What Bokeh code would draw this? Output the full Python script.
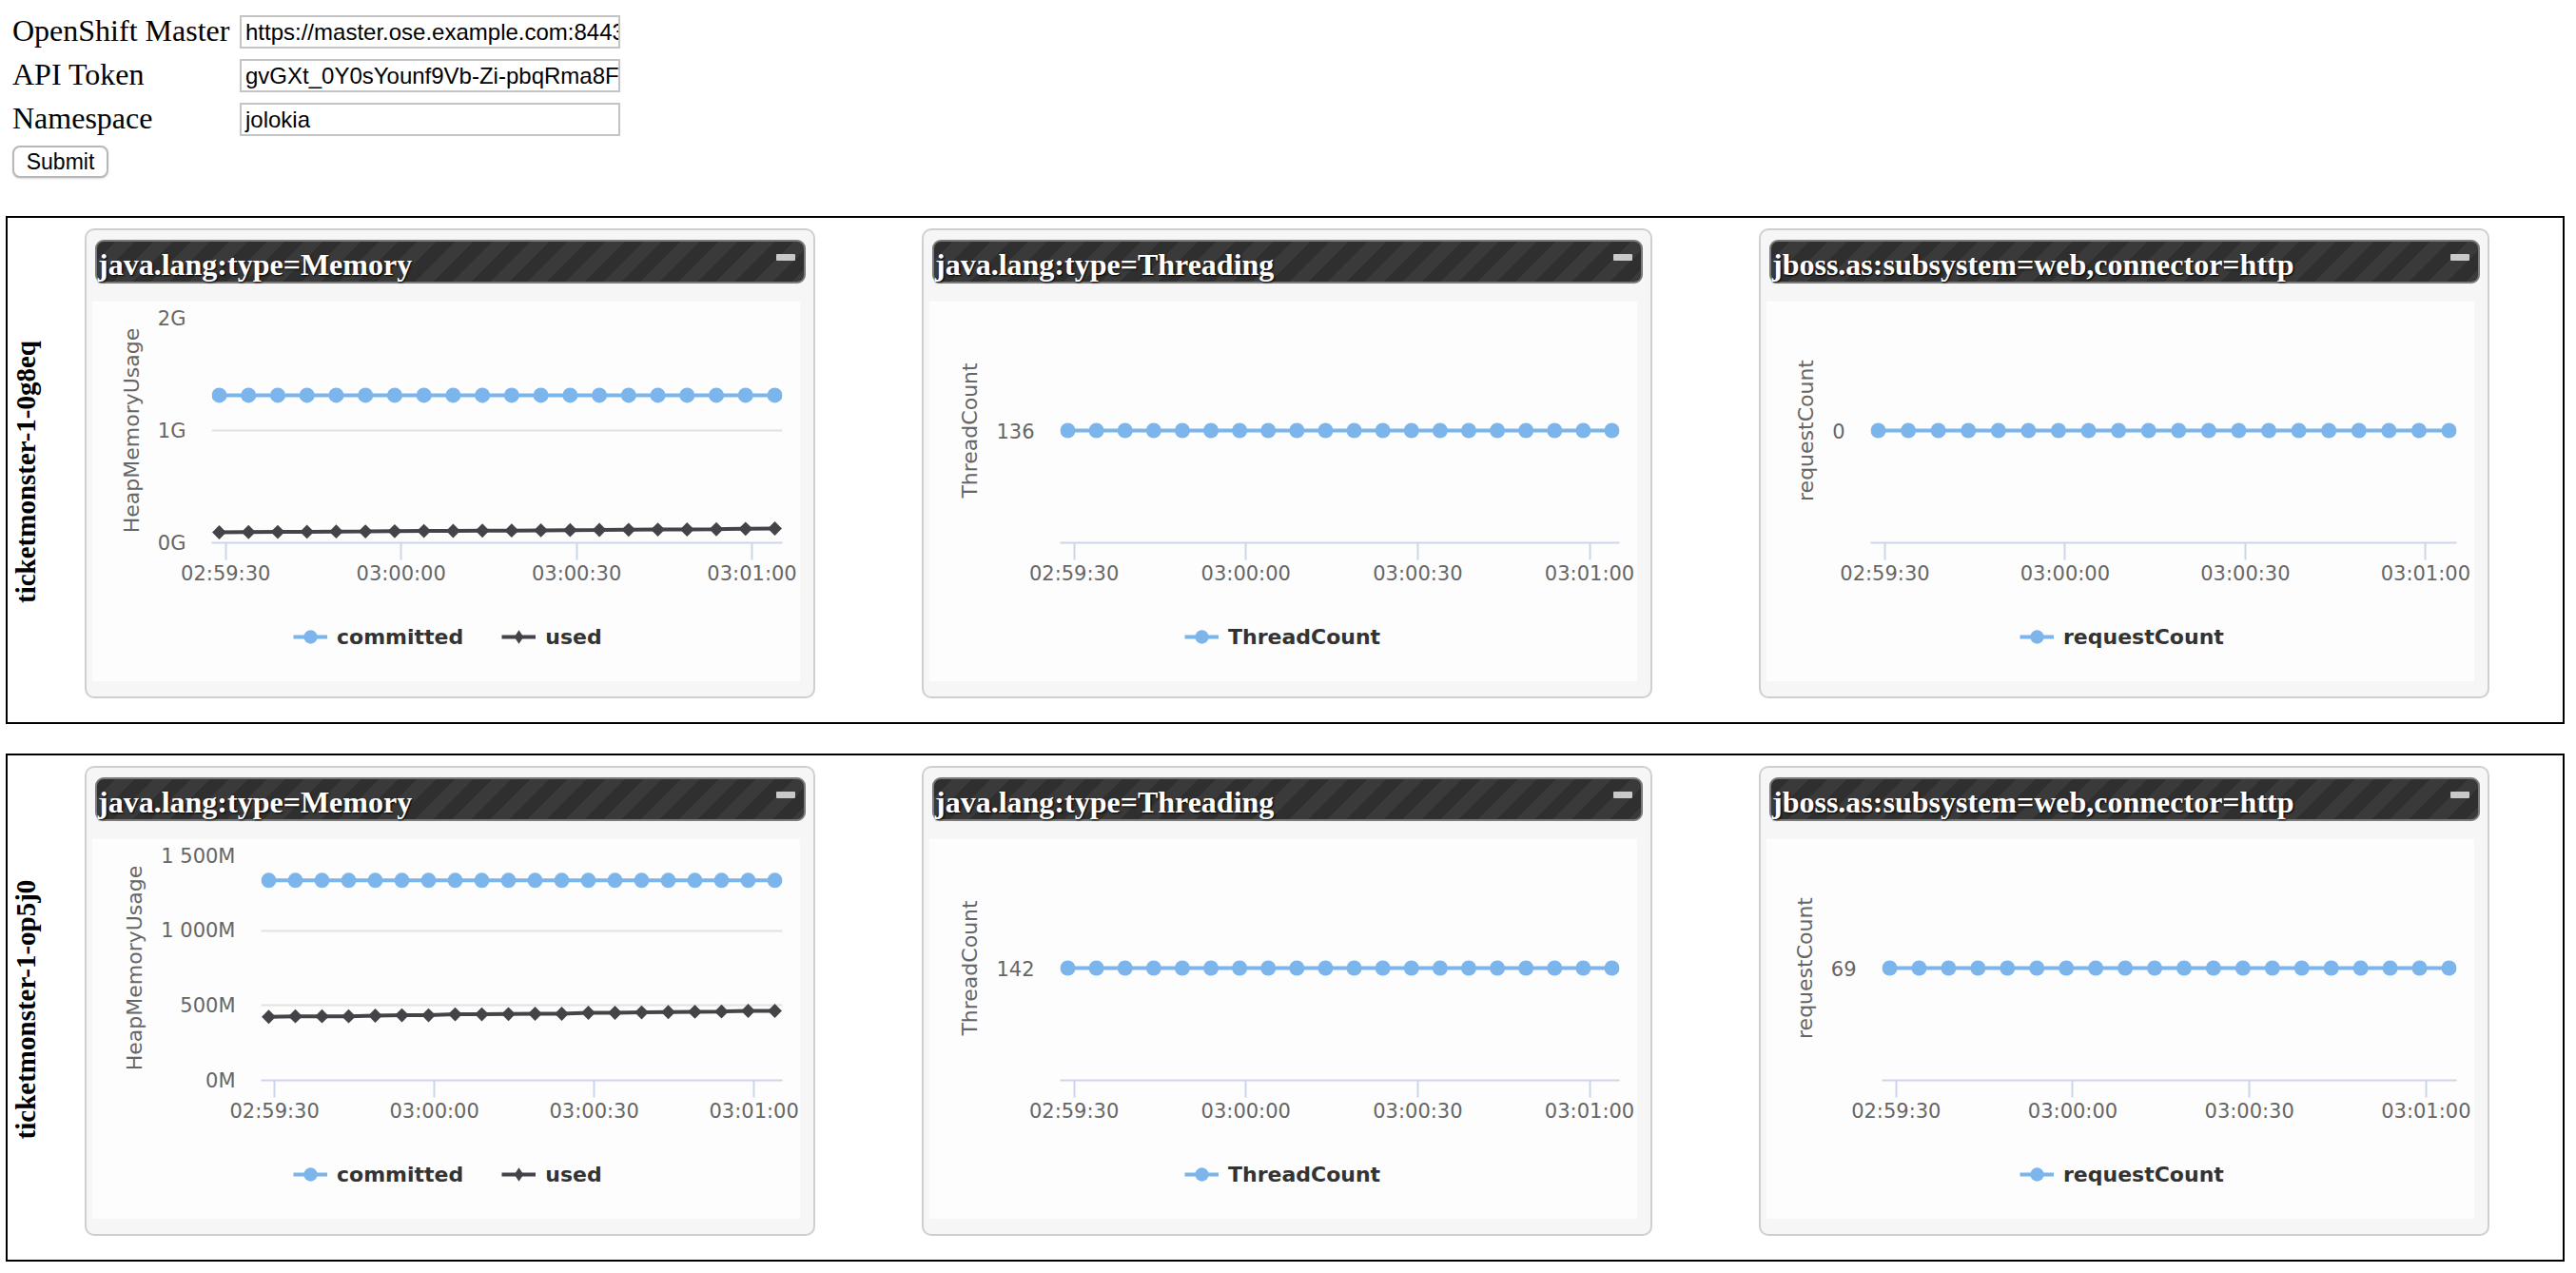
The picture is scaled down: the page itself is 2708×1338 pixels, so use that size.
import math
import pandas as pd
from bokeh.plotting import figure
from bokeh.layouts import column
from bokeh.models import (Range1d, FixedTicker, DatetimeTickFormatter, Legend,
                          LegendItem, Div)
from bokeh.embed import file_html
from bokeh.resources import INLINE

# ---------------- data ----------------
form_labels = ["OpenShift Master", "API Token", "Namespace"]
form_values = ["https://master.ose.example.com:8443",
               "gvGXt_0Y0sYounf9Vb-Zi-pbqRma8Fd",
               "jolokia"]
button_label = "Submit"
pods = ["ticketmonster-1-0g8eq", "ticketmonster-1-op5j0"]
mbeans = ["java.lang:type=Memory", "java.lang:type=Threading",
          "jboss.as:subsystem=web,connector=http"]

times = ["02:59:28.9", "02:59:33.9", "02:59:38.9", "02:59:43.9", "02:59:48.9",
         "02:59:53.9", "02:59:58.9", "03:00:03.9", "03:00:08.9", "03:00:13.9",
         "03:00:18.9", "03:00:23.9", "03:00:28.9", "03:00:33.9", "03:00:38.9",
         "03:00:43.9", "03:00:48.9", "03:00:53.9", "03:00:58.9", "03:01:03.9"]
x_tick_labels = ["02:59:30", "03:00:00", "03:00:30", "03:01:00"]

# heap values in MB
heap_committed_0 = [1314, 1314, 1314, 1314, 1314, 1314, 1314, 1314, 1314, 1314,
                    1314, 1314, 1314, 1314, 1314, 1314, 1314, 1314, 1314, 1314]
heap_used_0 = [93, 95, 97, 98, 100, 101, 103, 105, 106, 108,
               109, 111, 113, 114, 116, 118, 119, 121, 124, 127]
heap_committed_1 = [1336, 1336, 1336, 1336, 1336, 1336, 1336, 1336, 1336, 1336,
                    1336, 1336, 1336, 1336, 1336, 1336, 1336, 1336, 1336, 1336]
heap_used_1 = [424, 428, 428, 428, 432, 435, 435, 441, 441, 443,
               445, 445, 451, 451, 454, 456, 458, 460, 464, 464]
thread_count_0 = [136, 136, 136, 136, 136, 136, 136, 136, 136, 136,
                  136, 136, 136, 136, 136, 136, 136, 136, 136, 136]
thread_count_1 = [142, 142, 142, 142, 142, 142, 142, 142, 142, 142,
                  142, 142, 142, 142, 142, 142, 142, 142, 142, 142]
request_count_0 = [0, 0, 0, 0, 0, 0, 0, 0, 0, 0,
                   0, 0, 0, 0, 0, 0, 0, 0, 0, 0]
request_count_1 = [69, 69, 69, 69, 69, 69, 69, 69, 69, 69,
                   69, 69, 69, 69, 69, 69, 69, 69, 69, 69]

heap_ticks_0 = [0, 1000, 2000]
heap_tick_labels_0 = ["0G", "1G", "2G"]
heap_ticks_1 = [0, 500, 1000, 1500]
heap_tick_labels_1 = ["0M", "500M", "1 000M", "1 500M"]

# ---------------- styling / layout ----------------
DAY = "2017-03-01 "
C1, C2 = "#7cb5ec", "#434348"
CHART_BG = "#fdfdfd"
FONT = "DejaVu Sans"
W, H = 745, 400
FR, FT, FB = 19, 18, 146
FRAME_LEFT = {(0, 0): 126, (0, 1): 138, (0, 2): 110,
              (1, 0): 178, (1, 1): 138, (1, 2): 122}
LEGEND_LEFT = {0: 214, 1: 271, 2: 269}
LEGEND_TOP, LEGEND_H = 328, 50
COL_DX, ROW_DY = 880, 565
HAS_FRAME_ALIGN = "frame_align" in figure.properties()


def single(v):
    return (v[0] - 1, v[0] + 1)


charts = [
    dict(row=0, col=0, title="HeapMemoryUsage",
         series=[("committed", heap_committed_0, C1, "circle"),
                 ("used", heap_used_0, C2, "diamond")],
         yticks=heap_ticks_0, ylabels=heap_tick_labels_0, yr=(0, heap_ticks_0[-1])),
    dict(row=0, col=1, title="ThreadCount",
         series=[("ThreadCount", thread_count_0, C1, "circle")],
         yticks=[thread_count_0[0]], ylabels=None, yr=single(thread_count_0)),
    dict(row=0, col=2, title="requestCount",
         series=[("requestCount", request_count_0, C1, "circle")],
         yticks=[request_count_0[0]], ylabels=None, yr=single(request_count_0)),
    dict(row=1, col=0, title="HeapMemoryUsage",
         series=[("committed", heap_committed_1, C1, "circle"),
                 ("used", heap_used_1, C2, "diamond")],
         yticks=heap_ticks_1, ylabels=heap_tick_labels_1, yr=(0, heap_ticks_1[-1])),
    dict(row=1, col=1, title="ThreadCount",
         series=[("ThreadCount", thread_count_1, C1, "circle")],
         yticks=[thread_count_1[0]], ylabels=None, yr=single(thread_count_1)),
    dict(row=1, col=2, title="requestCount",
         series=[("requestCount", request_count_1, C1, "circle")],
         yticks=[request_count_1[0]], ylabels=None, yr=single(request_count_1)),
]

x_ms = [pd.Timestamp(DAY + t).value / 1e6 for t in times]
tick_ms = [pd.Timestamp(DAY + t).value / 1e6 for t in x_tick_labels]
fmt = "%H:%M:%S"


def abs_style(left, top, w, h):
    return {"position": "absolute", "left": f"{left}px", "top": f"{top}px",
            "width": f"{w}px", "height": f"{h}px",
            "min-width": f"{w}px", "min-height": f"{h}px"}


def make_chart(spec):
    r, c = spec["row"], spec["col"]
    fl = FRAME_LEFT[(r, c)]
    fw = W - fl - FR
    pad = 8 * (x_ms[-1] - x_ms[0]) / (fw - 16)
    left = 101 + c * COL_DX
    top = 322 + r * ROW_DY
    xr = Range1d(x_ms[0] - pad, x_ms[-1] + pad)
    p = figure(width=W, height=H, x_axis_type="datetime",
               x_range=xr, y_range=Range1d(*spec["yr"]),
               output_backend="svg", toolbar_location=None, tools="",
               min_border_left=fl, min_border_right=FR,
               min_border_top=FT, min_border_bottom=FB,
               background_fill_color=CHART_BG, border_fill_color=CHART_BG,
               outline_line_color=None, sizing_mode="fixed",
               styles=abs_style(left, top, W, H))
    if HAS_FRAME_ALIGN:
        p.frame_align = False
    # x axis
    xt = FixedTicker(ticks=tick_ms)
    p.xaxis.ticker = xt
    p.xaxis.formatter = DatetimeTickFormatter(milliseconds=fmt, seconds=fmt, minsec=fmt,
                                              minutes=fmt, hourmin=fmt, hours=fmt)
    p.xaxis.axis_line_color = "#ccd6eb"
    p.xaxis.axis_line_width = 2
    p.xaxis.major_tick_line_color = "#ccd6eb"
    p.xaxis.major_tick_line_width = 2
    p.xaxis.major_tick_out = 18
    p.xaxis.major_tick_in = 0
    p.xaxis.minor_tick_line_color = None
    p.xaxis.minor_tick_out = 0
    p.xaxis.major_label_standoff = 2
    p.xaxis.major_label_text_font = FONT
    p.xaxis.major_label_text_font_size = "21px"
    p.xaxis.major_label_text_color = "#666666"
    p.xgrid.grid_line_color = None

    # y axis
    yt = FixedTicker(ticks=spec["yticks"])
    p.yaxis.ticker = yt
    p.ygrid.ticker = yt
    if spec["ylabels"]:
        p.yaxis.major_label_overrides = dict(zip(spec["yticks"], spec["ylabels"]))
    p.yaxis.axis_line_color = None
    p.yaxis.major_tick_line_color = None
    p.yaxis.minor_tick_line_color = None
    p.yaxis.major_tick_out = 0
    p.yaxis.minor_tick_out = 0
    p.yaxis.major_label_standoff = 27
    p.yaxis.major_label_text_font = FONT
    p.yaxis.major_label_text_font_size = "21px"
    p.yaxis.major_label_text_color = "#666666"
    p.yaxis.axis_label = spec["title"]
    p.yaxis.axis_label_standoff = 12
    p.yaxis.axis_label_text_font = FONT
    p.yaxis.axis_label_text_font_size = "22px"
    p.yaxis.axis_label_text_font_style = "normal"
    p.yaxis.axis_label_text_color = "#666666"
    p.ygrid.grid_line_color = "#e2e2e2"
    p.ygrid.grid_line_width = 2

    # legend strip (its own small canvas, placed under the axis)
    lg = figure(width=W, height=LEGEND_H, x_range=xr, y_range=Range1d(*spec["yr"]),
                output_backend="svg", toolbar_location=None, tools="",
                x_axis_location=None, y_axis_location=None,
                min_border=0, outline_line_color=None,
                background_fill_alpha=0, border_fill_alpha=0, sizing_mode="fixed",
                styles=abs_style(left, top + LEGEND_TOP, W, LEGEND_H))
    if HAS_FRAME_ALIGN:
        lg.frame_align = False
    lg.grid.visible = False

    items = []
    for name, vals, color, marker in spec["series"]:
        p.line(x_ms, vals, line_color=color, line_width=4)
        ll = lg.line(x_ms, vals, line_color=color, line_width=4, visible=False)
        if marker == "circle":
            p.scatter(x_ms, vals, marker="circle", size=16,
                      fill_color=color, line_color=None)
            ls = lg.scatter(x_ms, vals, marker="circle", size=16,
                            fill_color=color, line_color=None, visible=False)
        else:
            p.scatter(x_ms, vals, marker="square", size=10.5, angle=math.pi / 4,
                      fill_color=color, line_color=None)
            ls = lg.scatter(x_ms, vals, marker="diamond", size=16,
                            fill_color=color, line_color=None, visible=False)
        items.append(LegendItem(label=name, renderers=[ll, ls]))

    legend = Legend(items=items, orientation="horizontal",
                    location=(LEGEND_LEFT[c] - 2, (LEGEND_H - 40) / 2),
                    glyph_width=36, glyph_height=40, label_standoff=10, spacing=40,
                    padding=0, margin=0, border_line_color=None,
                    background_fill_alpha=0, label_text_font=FONT,
                    label_text_font_style="bold", label_text_font_size="22px",
                    label_text_color="#333333", click_policy="none")
    lg.add_layout(legend, "center")
    return [p, lg]


# ---------------- static HTML (form, boxes, panels) ----------------
parts = []
for i, (lab, val) in enumerate(zip(form_labels, form_values)):
    top = 17 + 46 * i
    parts.append(
        f'<div style="position:absolute;left:13px;top:{top - 0.5}px;'
        f"font:32px/32px 'Liberation Serif';color:#000;white-space:nowrap\">{lab}</div>")
    parts.append(
        f'<div style="position:absolute;left:252px;top:{top}px;width:400px;height:35px;'
        f'box-sizing:border-box;border:2px solid #c4c4c4;background:#fff;overflow:hidden;'
        f"font:24px/31px 'Liberation Sans';padding-left:4px;white-space:nowrap;color:#000\">{val}</div>")
parts.append(
    '<div style="position:absolute;left:13px;top:154px;width:101px;height:34px;'
    'box-sizing:border-box;border:2px solid #b8b8b8;border-radius:8px;background:#fff;'
    'box-shadow:0 1px 2px rgba(0,0,0,0.15);'
    f"font:23px/30px 'Liberation Sans';text-align:center;color:#000\">{button_label}</div>")

for r, pod in enumerate(pods):
    parts.append(
        f'<div style="position:absolute;left:6px;top:{228 + ROW_DY * r}px;width:2690px;'
        f'height:534px;box-sizing:border-box;border:2px solid #000"></div>')
    parts.append(
        f'<div style="position:absolute;left:27px;top:{497 + ROW_DY * r}px;'
        f'transform:translate(-50%,-50%) rotate(-90deg);'
        f"font:bold 29px 'Liberation Serif';white-space:nowrap;color:#000\">{pod}</div>")
    for c, mb in enumerate(mbeans):
        pl, pt = 89 + COL_DX * c, 241 + ROW_DY * r
        parts.append(
            f'<div style="position:absolute;left:{pl}px;top:{pt}px;width:768px;height:494px;'
            f'box-sizing:border-box;border:2px solid #cfcfcf;border-radius:10px;'
            f'background:#f6f6f6"></div>')
        parts.append(
            f'<div style="position:absolute;left:{pl + 11}px;top:{pt + 12}px;width:747px;'
            f'height:46px;box-sizing:border-box;border:2px solid #7a7a7a;border-radius:9px;'
            f'background:repeating-linear-gradient(135deg,#2f2f2f 0px,#2f2f2f 14px,'
            f'#3a3a3a 14px,#3a3a3a 28px);">'
            f'<span style="position:absolute;left:1px;top:5px;'
            f"font:bold 32px/38px 'Liberation Serif';color:#fff;"
            f'text-shadow:1px 1px 2px #000;white-space:nowrap">{mb}</span>'
            f'<div style="position:absolute;right:9px;top:13px;width:20px;height:7px;'
            f'background:#c9c9c9;border-radius:1px"></div></div>')

bg = Div(text='<div style="position:relative;width:2700px;height:1330px">'
              + "".join(parts) + "</div>",
         width=2700, height=1330,
         styles={"position": "absolute", "left": "0px", "top": "0px"})

figs = []
for s in charts:
    figs.extend(make_chart(s))
root = column([bg] + figs, width=2700, height=1330, sizing_mode="fixed",
              styles={"position": "absolute", "left": "-5px", "top": "-6px",
                      "width": "2700px", "height": "1330px"})

open("out.html", "w").write(file_html(root, INLINE))
